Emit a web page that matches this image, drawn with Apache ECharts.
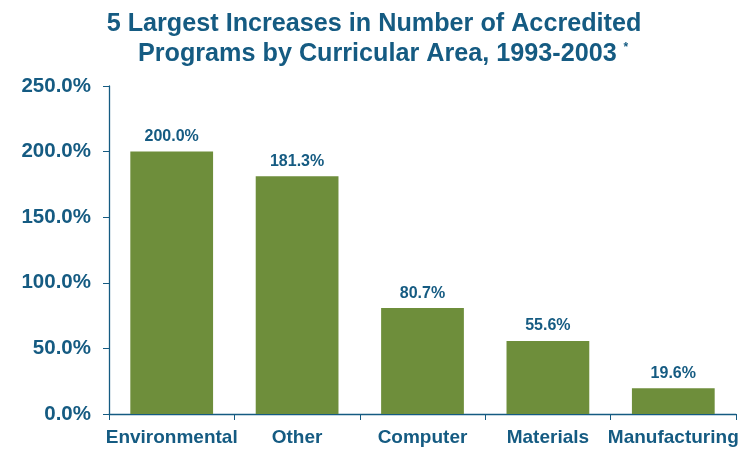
<!DOCTYPE html>
<html><head><meta charset="utf-8">
<script src="https://cdn.jsdelivr.net/npm/echarts@6/dist/echarts.min.js"></script>
<style>html,body{margin:0;padding:0;background:#fff}#c{width:746px;height:453px}</style>
</head><body><div id="c"></div>
<script>
const categories = ['Environmental','Other','Computer','Materials','Manufacturing'];
const values = [200.0, 181.3, 80.7, 55.6, 19.6];
const yTicks = [0, 50, 100, 150, 200, 250];
const titleLine1 = '5 Largest Increases in Number of Accredited';
const titleLine2 = 'Programs by Curricular Area, 1993-2003';
const teal = '#155b82';
const green = '#6e8e3b';
const tStyle = { fontFamily: 'Liberation Sans', fontWeight: 'bold', fontSize: 25.2, color: teal };
const chart = echarts.init(document.getElementById('c'));
chart.setOption({
  animation: false,
  title: [
    { text: titleLine1, left: 369, top: 7, textAlign: 'center', textStyle: tStyle },
    { text: '{a|' + titleLine2 + '}{s|  *}', left: 378, top: 37, textAlign: 'center',
      textStyle: { rich: {
        a: tStyle,
        s: { fontFamily: 'Liberation Sans', fontWeight: 'bold', fontSize: 12, color: teal, verticalAlign: 'top', padding: [0,0,10,0] }
      } } }
  ],
  grid: { left: 109, right: 10, top: 86, bottom: 39, containLabel: false },
  xAxis: {
    type: 'category', data: categories,
    axisLine: { lineStyle: { color: teal, width: 1.3 } },
    axisTick: { show: true, length: 6, lineStyle: { color: teal }, alignWithLabel: false },
    axisLabel: { interval: 0, color: teal, fontFamily: 'Liberation Sans', fontWeight: 'bold', fontSize: 19, margin: 14 }
  },
  yAxis: {
    type: 'value', min: 0, max: 250, interval: 50,
    axisLine: { show: true, lineStyle: { color: teal, width: 1.3 } },
    axisTick: { show: true, length: 6, lineStyle: { color: teal } },
    splitLine: { show: false },
    axisLabel: { color: teal, fontFamily: 'Liberation Sans', fontWeight: 'bold', fontSize: 20.5, margin: 18,
      formatter: v => v.toFixed(1) + '%' }
  },
  series: [{
    type: 'bar', data: values, barWidth: '66%',
    itemStyle: { color: green },
    label: { show: true, position: 'top', distance: 7, color: teal, fontFamily: 'Liberation Sans', fontWeight: 'bold', fontSize: 16,
      formatter: p => p.value.toFixed(1) + '%' }
  }]
});
</script></body></html>
